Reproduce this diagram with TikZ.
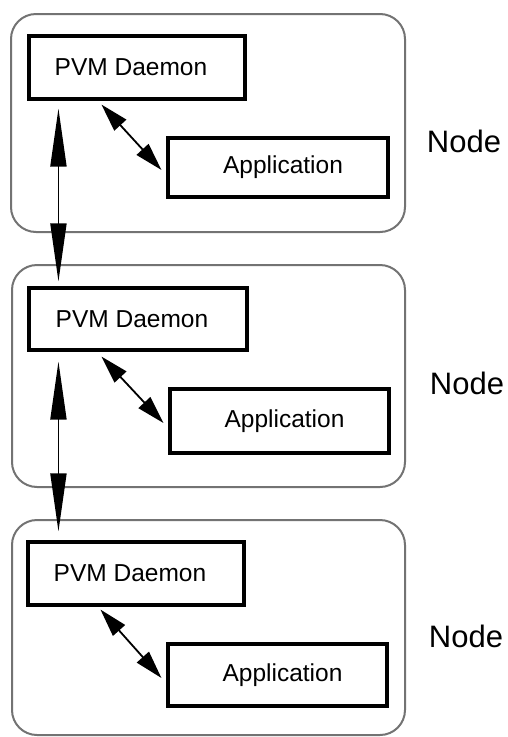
\documentclass[tikz,border=0pt]{standalone}
\usepackage{fontspec}
\setmainfont{Liberation Sans}
\usetikzlibrary{arrows.meta,calc}
\begin{document}
\begin{tikzpicture}[x=1pt,y=-1pt]
\tikzset{
 container/.style={draw=black!55, line width=2pt, rounded corners=25pt, inner sep=0pt},
 procbox/.style={draw, line width=3.1pt, font=\fontsize{24.5}{28}\selectfont, inner sep=0pt},
 nodelabel/.style={font=\fontsize{31}{36}\selectfont, inner sep=0pt},
 longarrow/.style={line width=1.8pt, {Triangle[length=58pt,width=16pt]}-{Triangle[length=58pt,width=16pt]}},
 shortarrow/.style={line width=1.8pt, {Triangle[length=28pt,width=16pt]}-{Triangle[length=28pt,width=16pt]}},
}
\useasboundingbox (0,0) rectangle (507,737);
% containers
\node[container, minimum width=394pt, minimum height=218pt] (cont1) at (208,123) {};
\node[container, minimum width=393pt, minimum height=222pt] (cont2) at (208.5,376) {};
\node[container, minimum width=393pt, minimum height=215pt] (cont3) at (208.5,627.5) {};
% boxes
\node[procbox, minimum width=216pt, minimum height=63pt] (pvm1) at (137,67.5) {\hspace*{-12pt}PVM Daemon};
\node[procbox, minimum width=220pt, minimum height=59pt] (app1) at (278,167.5) {Application\hspace*{-10pt}};
\node[procbox, minimum width=218pt, minimum height=62pt] (pvm2) at (138,319) {\hspace*{-12pt}PVM Daemon};
\node[procbox, minimum width=219pt, minimum height=64pt] (app2) at (279.5,421) {Application\hspace*{-10pt}};
\node[procbox, minimum width=216pt, minimum height=63pt] (pvm3) at (136,573.5) {\hspace*{-12pt}PVM Daemon};
\node[procbox, minimum width=219pt, minimum height=62pt] (app3) at (277.5,675) {Application\hspace*{-10pt}};
% labels
\node[nodelabel] (lab1) at (464,141) {Node};
\node[nodelabel] (lab2) at (467,383) {Node};
\node[nodelabel] (lab3) at (466,636) {Node};
% arrows between daemons
\draw[longarrow] ($(pvm1.south west)+(31,8)$) -- ($(pvm2.north west)+(31,-5)$);
\draw[longarrow] ($(pvm2.south west)+(31,10)$) -- ($(pvm3.north west)+(32,-9)$);
% daemon-application arrows
\draw[shortarrow] ($(pvm1.south west)+(74,4)$) -- ($(app1.west)+(-5,2.5)$);
\draw[shortarrow] ($(pvm2.south west)+(74,5)$) -- ($(app2.west)+(-5,2)$);
\draw[shortarrow] ($(pvm3.south west)+(74,3)$) -- ($(app3.west)+(-5,3)$);
\end{tikzpicture}
\end{document}
